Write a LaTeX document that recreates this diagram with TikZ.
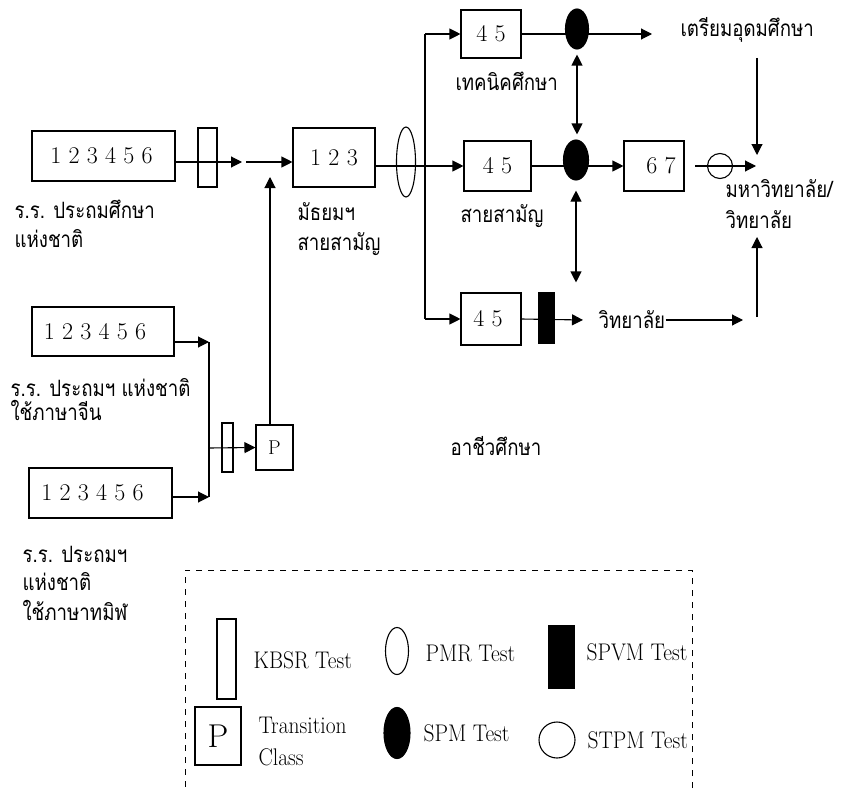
\documentclass[tikz,border=0pt]{standalone}
\usepackage{fontspec}
\newfontfamily\thai[Script=Thai]{Loma}
\usetikzlibrary{arrows.meta,shapes.geometric}
\newcommand{\lgdtext}[1]{\scalebox{1}[1.12]{#1}}
\newcommand{\thtext}[1]{\scalebox{0.83}[1]{\thai #1}}
\begin{document}
\begin{tikzpicture}[x=1pt,y=-1pt,line width=1.1pt,
  >={Triangle[length=11pt,width=11pt]},
  numbox/.style={draw,inner sep=0pt,font=\fontsize{24}{28}\selectfont},
  kbsr/.style={draw,inner sep=0pt},
  pmr/.style={draw,ellipse,inner sep=0pt},
  spm/.style={draw,fill=black,ellipse,inner sep=0pt},
  spvm/.style={draw,fill=black,inner sep=0pt},
  stpm/.style={draw,circle,inner sep=0pt},
  thl/.style={anchor=base west,inner sep=0pt,font=\fontsize{22.5}{26}\selectfont},
  lgl/.style={anchor=west,inner sep=0pt,font=\fontsize{21.5}{24}\selectfont},
  legframe/.style={dash pattern=on 6pt off 6pt,line width=1pt}]
\path[use as bounding box] (0,0) rectangle (841,792);

% ---------- boxes ----------
\node[numbox,minimum width=143pt,minimum height=50pt] (A) at (103.5,156) {1 2 3 4 5 6\hspace*{4pt}};
\node[kbsr,minimum width=19pt,minimum height=59pt] (K1) at (207.5,157.5) {};
\node[numbox,minimum width=82pt,minimum height=59pt] (B) at (334,157.5) {1 2 3};
\node[pmr,minimum width=19pt,minimum height=70pt] (E1) at (406,162) {};
\node[numbox,minimum width=60pt,minimum height=48pt] (T) at (491,34) {4 5};
\node[numbox,minimum width=67pt,minimum height=50pt] (M) at (497.5,166) {4 5};
\node[numbox,minimum width=60pt,minimum height=50pt] (G) at (654,166) {\hspace*{14pt}6 7};
\node[numbox,minimum width=60pt,minimum height=52pt] (BB) at (491,319) {4 5\hspace*{6pt}};
\node[numbox,minimum width=142pt,minimum height=49pt] (C) at (103,331.5) {1 2 3 4 5 6\hspace*{16pt}};
\node[numbox,minimum width=143pt,minimum height=50pt] (D) at (100.5,493) {1 2 3 4 5 6\hspace*{16pt}};
\node[kbsr,minimum width=11pt,minimum height=49pt] (K2) at (227.5,447.5) {};
\node[numbox,minimum width=37pt,minimum height=45pt,font=\fontsize{20}{22}\selectfont] (P) at (274.5,447.5) {P};

% ---------- labels ----------
\node[thl] (L1) at (14,218) {\thtext{ร.ร. ประถมศึกษา}};
\node[thl] (L2) at (14,247) {\thtext{แห่งชาติ}};
\node[thl] (L3) at (297,220) {\thtext{มัธยมฯ}};
\node[thl] (L4) at (297,250) {\thtext{สายสามัญ}};
\node[thl] (L5) at (455,90) {\thtext{เทคนิคศึกษา}};
\node[thl] (L6) at (680,37) {\thtext{เตรียมอุดมศึกษา}};
\node[thl] (L7) at (460,222) {\thtext{สายสามัญ}};
\node[thl] (L8a) at (725,197) {\thtext{มหาวิทยาลัย/}};
\node[thl] (L8b) at (725,228) {\thtext{วิทยาลัย}};
\node[thl] (L9) at (598,328) {\thtext{วิทยาลัย}};
\node[thl] (L10a) at (10,396) {\thtext{ร.ร. ประถมฯ แห่งชาติ}};
\node[thl] (L10b) at (10,420) {\thtext{ใช้ภาษาจีน}};
\node[thl] (L11) at (450,455) {\thtext{อาชีวศึกษา}};
\node[thl] (L12a) at (22,562) {\thtext{ร.ร. ประถมฯ}};
\node[thl] (L12b) at (22,590) {\thtext{แห่งชาติ}};
\node[thl] (L12c) at (22,620) {\thtext{ใช้ภาษาทมิฬ}};

% ---------- coordinates ----------
\coordinate (j0) at (242,162);
\coordinate (j1) at (246,162);
\coordinate (pu) at (270,177);
\coordinate (sp) at (425,166);
\coordinate (t1) at (652,34);
\coordinate (u1) at (757,58);
\coordinate (u2) at (757,155);
\coordinate (g1) at (695,166);
\coordinate (g2) at (756,166);
\coordinate (b1) at (583,320);
\coordinate (b2) at (743,320);
\coordinate (w1) at (757,317);
\coordinate (w2) at (757,237);
\coordinate (c1) at (209,342);
\coordinate (d1) at (209,497);
\coordinate (m1) at (209,448);

% ---------- connectors ----------
\draw[->] (A.east |- j0) -- (j0);
\draw[->] (j1) -- (B.west |- j1);
\draw[->] (P.north -| pu) -- (pu);
\draw (B.east |- sp) -- (sp);
\draw (sp |- T.west) -- (sp |- BB.west);
\draw[->] (sp |- T.west) -- (T.west);
\draw[->] (sp) -- (M.west);
\draw[->] (sp |- BB.west) -- (BB.west);
\draw[->] (T.east) -- (t1);
\draw[->] (u1) -- (u2);
\draw[->] (M.east) -- (G.west);
\draw[->] (g1) -- (g2);
\draw[->] (BB.east) -- (b1);
\draw[->] (L9.east |- b2) -- (b2);
\draw[->] (w1) -- (w2);
\draw[->] (C.east |- c1) -- (c1);
\draw[->] (D.east |- d1) -- (d1);
\draw (c1) -- (d1);
\draw[->] (m1) -- (P.west);

% ---------- tests on the lines ----------
\node[spm,minimum width=23pt,minimum height=40pt] (S1) at (577,29) {};
\node[spm,minimum width=25pt,minimum height=40pt] (S2) at (576,160) {};
\node[spvm,minimum width=15pt,minimum height=50pt] (V1) at (546.5,318) {};
\node[stpm,minimum size=25pt] (O1) at (720,166) {};
\draw[<->,shorten <=5pt,shorten >=5pt] (S1.south) -- (S1.south |- S2.north);
\draw[<->,shorten <=10pt,shorten >=10pt] (S2.south) -- (S2.south |- BB.north);

% ---------- legend ----------
\draw[legframe] (692,800) -- (692,570) -- (185,570) -- (185,800);
\node[kbsr,minimum width=19pt,minimum height=80pt] (LK) at (226.5,659) {};
\node[lgl] (LKt) at (253,660) {\lgdtext{KBSR Test}};
\node[draw,inner sep=0pt,minimum width=46pt,minimum height=58pt,font=\fontsize{33}{36}\selectfont] (LP) at (218,736) {P};
\node[lgl] (LPt1) at (258,725) {\lgdtext{Transition}};
\node[lgl] (LPt2) at (258,757) {\lgdtext{Class}};
\node[pmr,minimum width=23pt,minimum height=47pt] (LE) at (397,651) {};
\node[lgl] (LEt) at (425,653) {\lgdtext{PMR Test}};
\node[spm,minimum width=26pt,minimum height=51pt] (LS) at (397,733) {};
\node[lgl] (LSt) at (423,733) {\lgdtext{SPM Test}};
\node[spvm,minimum width=25pt,minimum height=62pt] (LV) at (561.5,657) {};
\node[lgl] (LVt) at (586,652) {\lgdtext{SPVM Test}};
\node[stpm,minimum size=36pt] (LO) at (557,740) {};
\node[lgl] (LOt) at (587,740) {\lgdtext{STPM Test}};
\end{tikzpicture}
\end{document}
